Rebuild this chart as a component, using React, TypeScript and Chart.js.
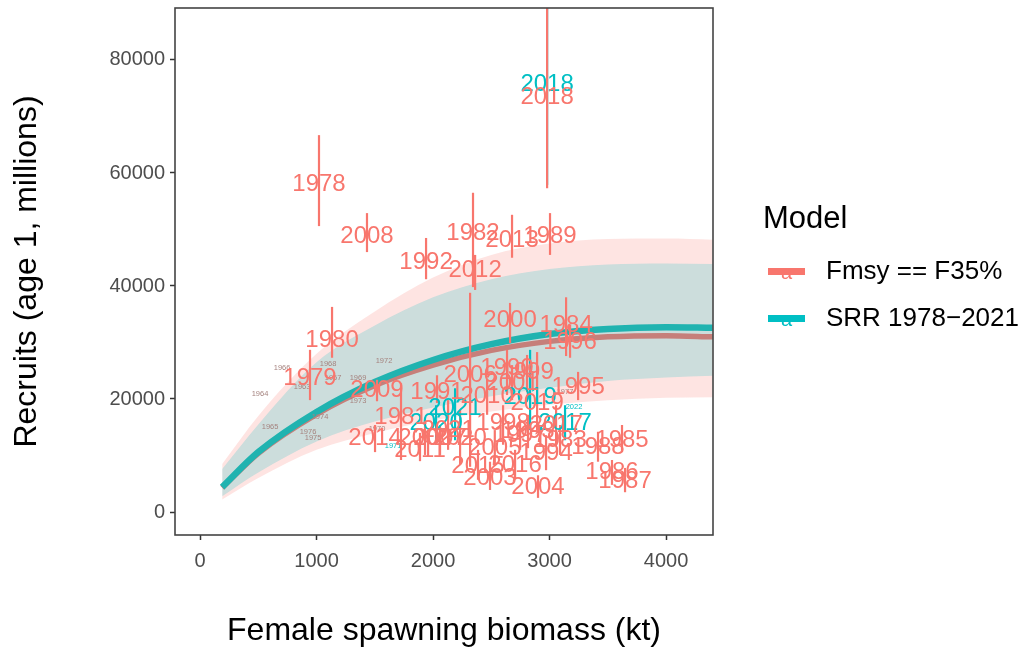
import React, { useEffect, useRef } from "react";
import { Chart, registerables } from "chart.js";
Chart.register(...registerables);

// ---- curves (biomass in kt, recruits in millions) ----
const curveBiomass = [190, 500, 1000, 1500, 2000, 2500, 3000, 3500, 4000, 4400];
const fmsyMean = [4300, 10400, 17300, 22400, 26000, 28600, 30200, 31000, 31200, 31000];
const fmsyLow = [2200, 6000, 11000, 14000, 16200, 17800, 19000, 19800, 20200, 20300];
const fmsyHigh = [8500, 17000, 28000, 35500, 41500, 45500, 47500, 48300, 48400, 48200];
const srrMean = [4400, 10600, 17700, 23000, 26900, 29700, 31500, 32400, 32700, 32600];
const srrLow = [2800, 7000, 12500, 16000, 18500, 20500, 22000, 23200, 23800, 24100];
const srrHigh = [7600, 15500, 26500, 33000, 38000, 41200, 43000, 43800, 44000, 43900];

// ---- annual estimates, model "Fmsy == F35%" ----
const fmsyYears = [1978, 1979, 1980, 1981, 1982, 1983, 1984, 1985, 1986, 1987, 1988, 1989, 1990, 1991, 1992, 1993, 1994, 1995, 1996, 1997, 1998, 1999, 2000, 2001, 2002, 2003, 2004, 2005, 2006, 2007, 2008, 2009, 2010, 2011, 2012, 2013, 2014, 2015, 2016, 2017, 2018, 2019, 2020, 2021];
const fmsySsb = [1021, 944, 1133, 1725, 2343, 3090, 3142, 3622, 3536, 3648, 3416, 3004, 2635, 2034, 1940, 2815, 2970, 3245, 3176, 2747, 2601, 2807, 2661, 2678, 1931, 2489, 2901, 2530, 2318, 2060, 1433, 1519, 2464, 1888, 2361, 2678, 1502, 2386, 2704, 3056, 2979, 2893, 2232, 2129];
const fmsyRec = [58050, 23700, 30300, 16800, 49400, 12700, 33100, 12700, 7100, 5500, 11500, 48800, 25500, 21200, 44200, 14200, 10400, 22100, 30100, 13600, 15600, 24800, 34000, 22800, 13100, 6000, 4400, 11300, 24200, 13100, 48800, 21600, 20400, 10970, 42800, 48100, 13100, 8100, 8300, 15400, 73450, 19300, 13100, 14500];
const fmsyRecLo = [50600, 19800, 27300, 9200, 39800, 10100, 27600, 10600, 4800, 3500, 8900, 45500, 20700, 19300, 41200, 11300, 7400, 19800, 27300, 11000, 11900, 21200, 29900, 19800, 10100, 3900, 2500, 8300, 8000, 10100, 46000, 19600, 17200, 9000, 39300, 45000, 10600, 5700, 6000, 11900, 57300, 14500, 8300, 11000];
const fmsyRecHi = [66700, 28700, 36300, 22800, 56500, 15400, 38000, 15400, 9200, 7800, 14200, 52900, 28700, 24200, 48500, 17200, 13600, 24800, 33100, 16300, 18900, 27800, 37000, 26000, 16300, 8900, 6500, 14500, 38800, 15400, 52900, 23400, 23400, 14000, 45500, 52600, 15400, 11000, 11000, 18900, 95000, 28300, 18100, 19800];

// ---- annual estimates, model "SRR 1978-2021" (where visible apart) ----
const srrYears = [2017, 2018, 2019, 2020, 2021];
const srrSsb = [3133, 2979, 2833, 2026, 2189];
const srrRec = [15750, 75750, 20200, 15600, 18400];
const srrRecLo = [12700, 57900, 14500, 11900, 12700];
const srrRecHi = [18900, 95000, 28700, 18900, 21900];

// ---- years outside the fit (small labels) ----
const otherYears = [1963, 1964, 1965, 1966, 1967, 1968, 1969, 1970, 1972, 1973, 1974, 1975, 1976, 1977];
const otherSsb = [876, 515, 601, 704, 1142, 1099, 1356, 1519, 1579, 1356, 1030, 970, 927, 3133];
const otherRec = [22100, 20900, 15000, 25500, 23700, 26200, 23700, 14700, 26700, 19600, 16800, 13100, 14200, 21200];
const otherSrrYears = [1971, 2022];
const otherSrrSsb = [1657, 3210];
const otherSrrRec = [11700, 18600];

const xTicks = [0, 1000, 2000, 3000, 4000];
const yTicks = [0, 20000, 40000, 60000, 80000];
const legendLabels = ["Fmsy == F35%", "SRR 1978\u22122021"];

const RED = "#F8766D";
const TEAL = "#00BFC4";
const FONT = '"Liberation Sans", Arial, sans-serif';

const pts = (xs: number[], ys: number[]) => xs.map((x, i) => ({ x, y: ys[i] }));

const overlayPlugin = {
  id: "overlay",
  afterDatasetsDraw(chart: any) {
    const { ctx, chartArea: a, scales } = chart;
    const sx = scales.x, sy = scales.y;
    ctx.save();
    ctx.beginPath();
    ctx.rect(a.left, a.top, a.right - a.left, a.bottom - a.top);
    ctx.clip();
    const bars = (xs: number[], lo: number[], hi: number[], color: string) => {
      ctx.strokeStyle = color;
      ctx.lineWidth = 2.2;
      xs.forEach((x, i) => {
        const px = sx.getPixelForValue(x);
        ctx.beginPath();
        ctx.moveTo(px, sy.getPixelForValue(lo[i]));
        ctx.lineTo(px, sy.getPixelForValue(hi[i]));
        ctx.stroke();
      });
    };
    const labels = (yrs: number[], xs: number[], ys: number[], color: string, size: number) => {
      ctx.fillStyle = color;
      ctx.font = `${size}px ${FONT}`;
      ctx.textAlign = "center";
      ctx.textBaseline = "middle";
      yrs.forEach((yr, i) => {
        ctx.fillText(String(yr), sx.getPixelForValue(xs[i]), sy.getPixelForValue(ys[i]));
      });
    };
    labels(otherYears, otherSsb, otherRec, "#A5837F", 7.5);
    labels(otherSrrYears, otherSrrSsb, otherSrrRec, TEAL, 7.5);
    bars(srrSsb, srrRecLo, srrRecHi, TEAL);
    bars(fmsySsb, fmsyRecLo, fmsyRecHi, RED);
    labels(srrYears, srrSsb, srrRec, TEAL, 24);
    labels(fmsyYears, fmsySsb, fmsyRec, RED, 24);
    ctx.restore();

    // panel border
    ctx.save();
    ctx.strokeStyle = "#444";
    ctx.lineWidth = 1.6;
    ctx.strokeRect(a.left, a.top, a.right - a.left, a.bottom - a.top);
    ctx.restore();

    // legend
    ctx.save();
    const cy = (a.top + a.bottom) / 2;
    const lx = a.right + 50;
    ctx.fillStyle = "#000";
    ctx.textAlign = "left";
    ctx.textBaseline = "middle";
    ctx.font = `31px ${FONT}`;
    ctx.fillText("Model", lx, cy - 52);
    [RED, TEAL].forEach((c, i) => {
      const y = cy + i * 47;
      ctx.strokeStyle = c;
      ctx.lineWidth = 7;
      ctx.beginPath();
      ctx.moveTo(lx + 5, y);
      ctx.lineTo(lx + 42, y);
      ctx.stroke();
      ctx.fillStyle = c;
      ctx.font = `20px ${FONT}`;
      ctx.textAlign = "center";
      ctx.fillText("a", lx + 23.5, y + 2);
      ctx.fillStyle = "#000";
      ctx.textAlign = "left";
      ctx.font = `26px ${FONT}`;
      ctx.fillText(legendLabels[i], lx + 63, y);
    });
    ctx.restore();
  },
};

export default function App() {
  const ref = useRef<HTMLCanvasElement | null>(null);
  useEffect(() => {
    document.body.style.margin = "0";
    if (!ref.current) return;
    const line = (data: any, color: string, width: number, order: number, extra: any = {}) => ({
      data,
      order,
      borderColor: color,
      borderWidth: width,
      pointRadius: 0,
      cubicInterpolationMode: "monotone",
      fill: false,
      ...extra,
    });
    const chart = new Chart(ref.current, {
      type: "line",
      data: {
        datasets: [
          line(pts(curveBiomass, fmsyHigh), "rgba(0,0,0,0)", 0, 10, { fill: "+1", backgroundColor: "rgba(248,118,109,0.2)" }),
          line(pts(curveBiomass, fmsyLow), "rgba(0,0,0,0)", 0, 9),
          line(pts(curveBiomass, srrHigh), "rgba(0,0,0,0)", 0, 8, { fill: "+1", backgroundColor: "rgba(0,191,196,0.2)" }),
          line(pts(curveBiomass, srrLow), "rgba(0,0,0,0)", 0, 7),
          line(pts(curveBiomass, fmsyMean), "#C67F7A", 5.5, 6),
          line(pts(curveBiomass, srrMean), "#20B3B0", 6.5, 5),
        ] as any,
      },
      options: {
        animation: false,
        responsive: false,
        events: [],
        layout: { padding: { top: 8, right: 310, left: 0, bottom: 0 } },
        plugins: { legend: { display: false }, tooltip: { enabled: false } },
        scales: {
          x: {
            type: "linear",
            min: -215,
            max: 4403,
            afterBuildTicks: (s: any) => { s.ticks = xTicks.map((v) => ({ value: v })); },
            afterFit: (s: any) => { s.height = 115; s.paddingLeft = 0; s.paddingRight = 0; },
            ticks: { color: "#4D4D4D", font: { family: FONT, size: 20 }, padding: 9, callback: (v: any) => String(v), maxRotation: 0 },
            grid: { drawOnChartArea: false, drawTicks: true, tickLength: 5, tickColor: "#333", tickWidth: 1.5 },
            border: { display: false },
            title: { display: true, text: "Female spawning biomass (kt)", color: "#000", font: { family: FONT, size: 32 }, padding: { top: 0, bottom: 0 } },
          },
          y: {
            type: "linear",
            min: -4070,
            max: 89200,
            afterBuildTicks: (s: any) => { s.ticks = yTicks.map((v) => ({ value: v })); },
            afterFit: (s: any) => { s.width = 175; s.paddingTop = 0; s.paddingBottom = 0; },
            ticks: { color: "#4D4D4D", font: { family: FONT, size: 20 }, padding: 5, callback: (v: any) => String(v) },
            grid: { drawOnChartArea: false, drawTicks: true, tickLength: 5, tickColor: "#333", tickWidth: 1.5 },
            border: { display: false },
            title: { display: true, text: "Recruits (age 1, millions)", color: "#000", font: { family: FONT, size: 32 }, padding: { top: 8, bottom: 0 } },
          },
        },
      } as any,
      plugins: [overlayPlugin],
    });
    return () => chart.destroy();
  }, []);
  return (
    <div style={{ width: 1023, height: 650 }}>
      <canvas ref={ref} width={1023} height={650} style={{ display: "block" }} />
    </div>
  );
}
